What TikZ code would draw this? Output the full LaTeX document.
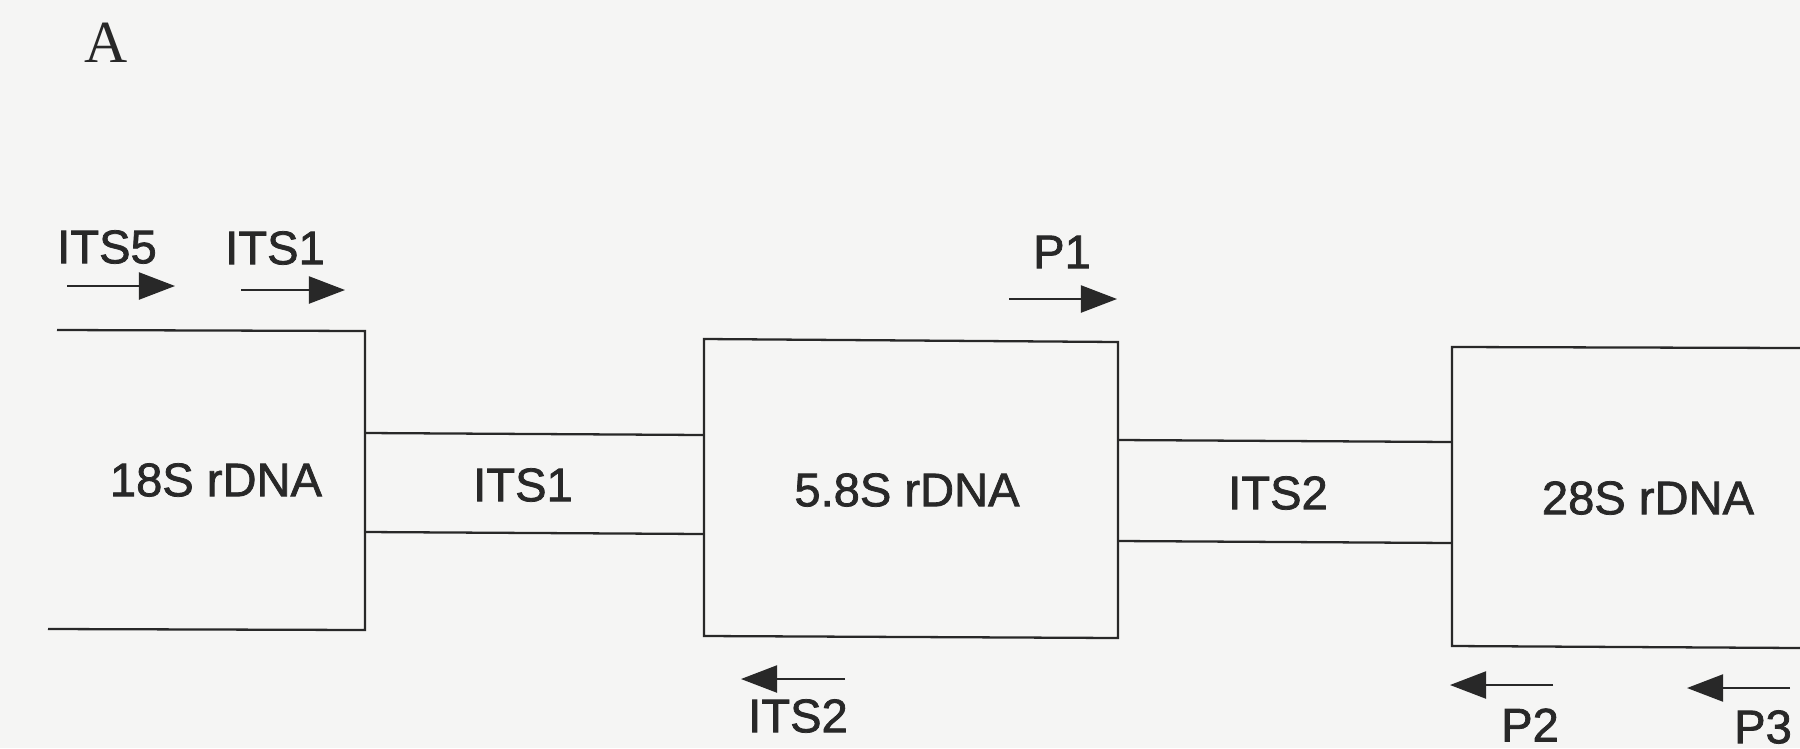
\documentclass[tikz,border=0pt]{standalone}
\usepackage{fontspec}
\setmainfont{Liberation Sans}
\newfontfamily\labelfont{Liberation Sans}[FakeBold=1.6]
\newfontfamily\serifA{Liberation Serif}
\usetikzlibrary{arrows.meta}
\definecolor{paper}{RGB}{245,245,244}
\definecolor{ink}{RGB}{40,40,40}
\begin{document}
\begin{tikzpicture}[x=0.01cm,y=-0.01cm,
  seg/.style={draw=ink,line width=0.65pt},
  primer/.style={draw=ink,line width=0.6pt,-{Triangle[length=0.36cm,width=0.27cm]}},
  lbl/.style={text=ink,font=\labelfont\fontsize{13.4}{15}\selectfont,inner sep=0pt},
  panel/.style={text=ink,font=\serifA\fontsize{17}{19}\selectfont,inner sep=0pt}
]
\fill[paper] (0,0) rectangle (1800,748);
\useasboundingbox (0,0) rectangle (1800,748);

% panel letter
\node[panel] (pA) at (106,43) {A};

% 18S block (open on the left)
\coordinate (a1) at (57,330);
\coordinate (a2) at (365,331);
\coordinate (a3) at (365,630);
\coordinate (a4) at (48,629);
\draw[seg] (a1) -- (a2) -- (a3) -- (a4);

% ITS1 band
\coordinate (b1) at (365,433);
\coordinate (b2) at (704,435);
\coordinate (b3) at (365,532);
\coordinate (b4) at (704,534);
\draw[seg] (b1) -- (b2);
\draw[seg] (b3) -- (b4);

% 5.8S block
\coordinate (c1) at (704,339);
\coordinate (c2) at (1118,342);
\coordinate (c3) at (1118,638);
\coordinate (c4) at (704,636);
\draw[seg] (c1) -- (c2) -- (c3) -- (c4) -- cycle;

% ITS2 band
\coordinate (d1) at (1118,440);
\coordinate (d2) at (1452,442);
\coordinate (d3) at (1118,541);
\coordinate (d4) at (1452,543);
\draw[seg] (d1) -- (d2);
\draw[seg] (d3) -- (d4);

% 28S block (open on the right)
\coordinate (e1) at (1800,348);
\coordinate (e2) at (1452,347);
\coordinate (e3) at (1452,646);
\coordinate (e4) at (1800,648);
\draw[seg] (e1) -- (e2) -- (e3) -- (e4);

% region labels
\node[lbl] (t18) at (216,480) {18S rDNA};
\node[lbl] (tI1) at (523,485) {ITS1};
\node[lbl] (t58) at (907,490) {5.8S rDNA};
\node[lbl] (tI2) at (1278,493) {ITS2};
\node[lbl] (t28) at (1648,498) {28S rDNA};

% primers
\node[lbl] (lITS5) at (107,247) {ITS5};
\coordinate (s5a) at (67,286);
\coordinate (s5b) at (175,286);
\draw[primer] (s5a) -- (s5b);

\node[lbl] (lITS1) at (275,248) {ITS1};
\coordinate (s1a) at (241,290);
\coordinate (s1b) at (345,290);
\draw[primer] (s1a) -- (s1b);

\node[lbl] (lP1) at (1062,252) {P1};
\coordinate (p1a) at (1009,299);
\coordinate (p1b) at (1117,299);
\draw[primer] (p1a) -- (p1b);

\coordinate (s2a) at (845,679);
\coordinate (s2b) at (741,679);
\draw[primer] (s2a) -- (s2b);
\node[lbl] (lITS2) at (798,716) {ITS2};

\coordinate (p2a) at (1553,685);
\coordinate (p2b) at (1450,685);
\draw[primer] (p2a) -- (p2b);
\node[lbl] (lP2) at (1530,725) {P2};

\coordinate (p3a) at (1790,688);
\coordinate (p3b) at (1687,688);
\draw[primer] (p3a) -- (p3b);
\node[lbl] (lP3) at (1763,727) {P3};
\end{tikzpicture}
\end{document}
